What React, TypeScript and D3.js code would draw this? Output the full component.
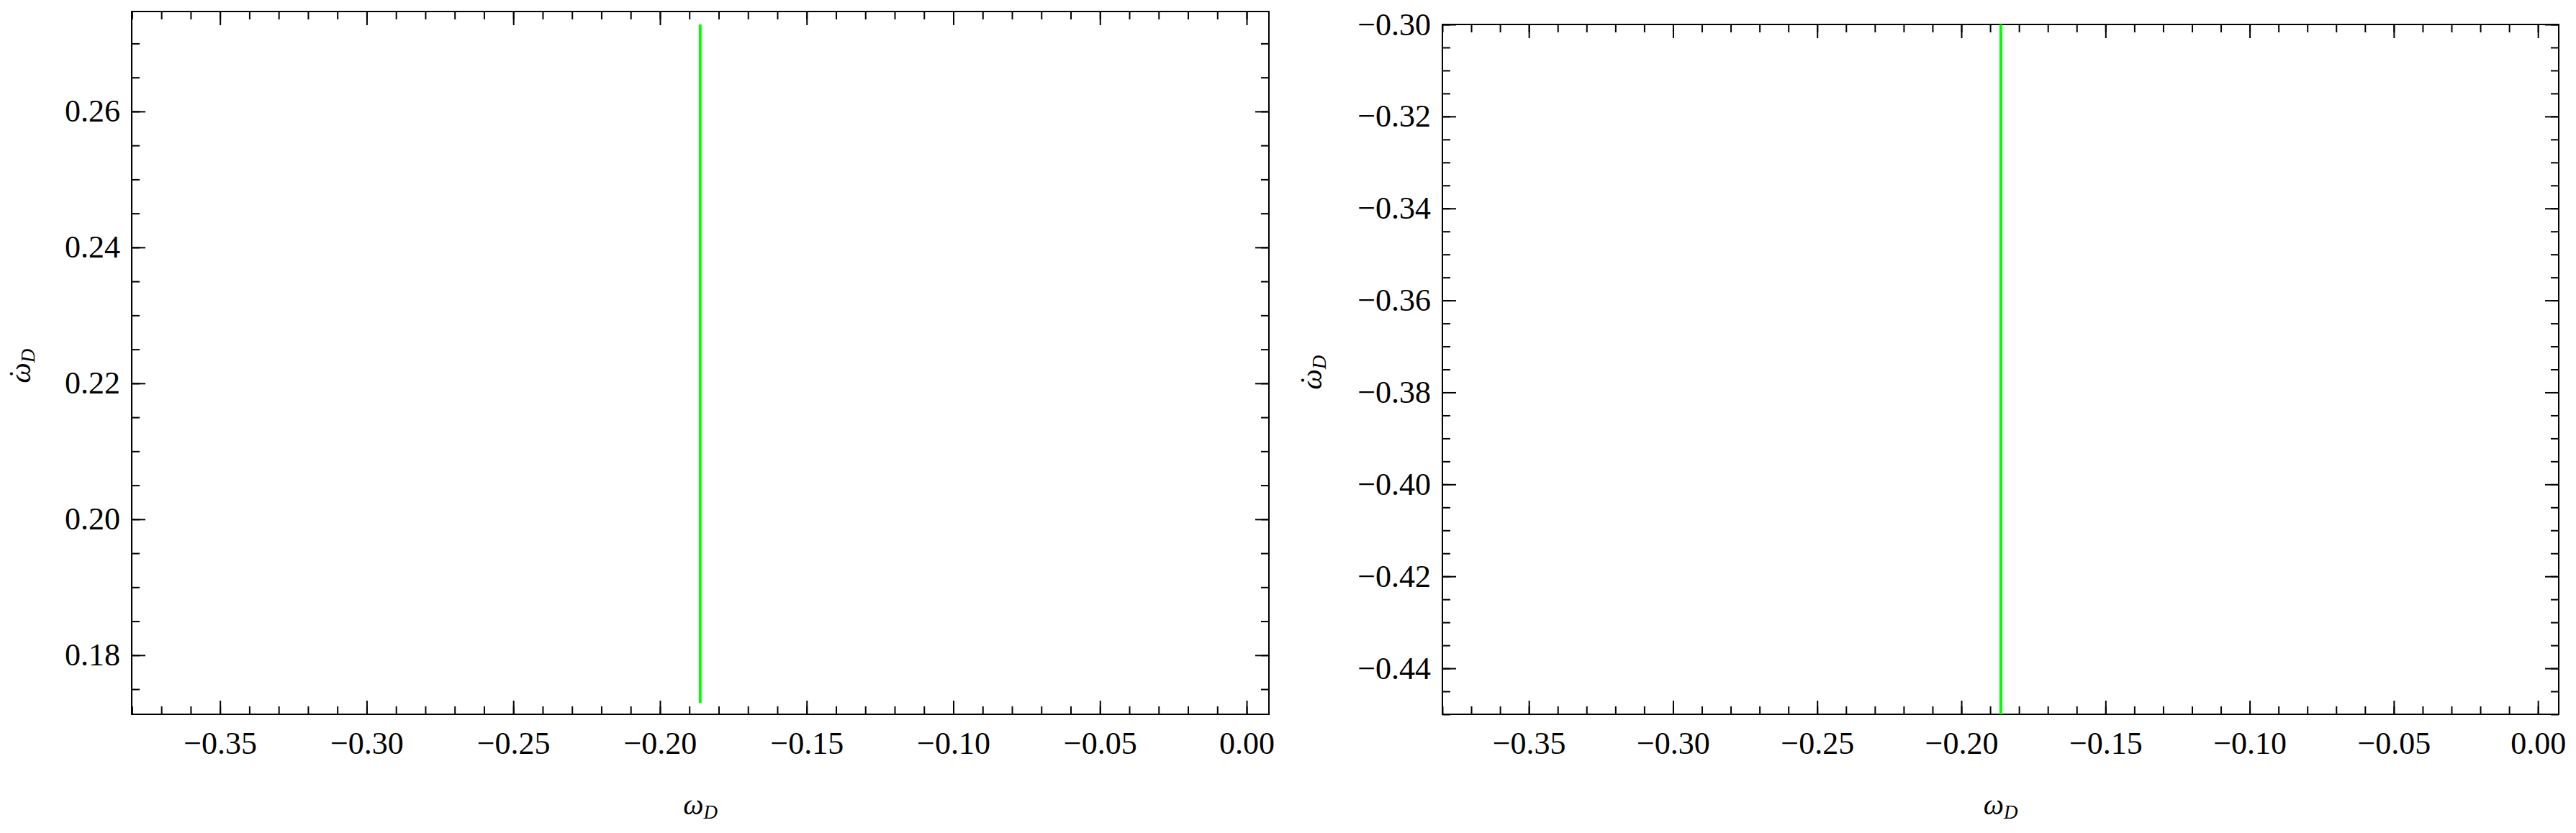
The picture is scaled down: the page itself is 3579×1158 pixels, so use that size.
import React, { useEffect, useRef } from 'react'
import { select, scaleLinear, axisBottom, axisTop, axisLeft, axisRight, line, range, format } from 'd3'

// values
const xMajor = [-0.35, -0.3, -0.25, -0.2, -0.15, -0.1, -0.05, 0]
const leftYMajor = [0.18, 0.2, 0.22, 0.24, 0.26]
const rightYMajor = [-0.44, -0.42, -0.4, -0.38, -0.36, -0.34, -0.32, -0.3]

// the green curve is a vertical segment at omega_D ~ -0.1863
const leftCurveX = [-0.1863, -0.1863]
const leftCurveY = [0.173, 0.2728]
const rightCurveX = [-0.1863, -0.1863]
const rightCurveY = [-0.45, -0.3]

const W = 3579, H = 1158
const FONT = '"Liberation Serif", "DejaVu Serif", serif'

const panels = [
  { x0: 183, x1: 1763, y0: 16, y1: 993, xDom: [-0.3801, 0.0076], yDom: [0.1713, 0.2747], yMajor: leftYMajor, yStep: 0.005, cx: leftCurveX, cy: leftCurveY, labelX: 42 },
  { x0: 2004, x1: 3555, y0: 34, y1: 993, xDom: [-0.38, 0.0072], yDom: [-0.45, -0.3], yMajor: rightYMajor, yStep: 0.005, cx: rightCurveX, cy: rightCurveY, labelX: 1836 },
]

const fmt = format('.2f')

function stepTicks(dom: number[], step: number) {
  const lo = Math.ceil(dom[0] / step - 1e-6)
  const hi = Math.floor(dom[1] / step + 1e-6)
  return range(lo, hi + 1).map(i => +(i * step).toFixed(4))
}

function App() {
  const ref = useRef(null)

  useEffect(() => {
    document.body.style.margin = '0'
    const svg = select(ref.current)
    svg.selectAll('*').remove()

    svg.append('rect').attr('width', W).attr('height', H).attr('fill', 'white')

    panels.forEach(p => {
      const x = scaleLinear().domain(p.xDom).range([p.x0, p.x1])
      const y = scaleLinear().domain(p.yDom).range([p.y1, p.y0])
      const g = svg.append('g')

      const xMinor = stepTicks(p.xDom, 0.01)
      const yMinor = stepTicks(p.yDom, p.yStep)

      const styleAxis = (sel: any) => {
        sel.select('.domain').remove()
        sel.selectAll('line').attr('stroke', '#000').attr('stroke-width', 2)
        sel.attr('font-family', null).attr('font-size', null)
        sel.selectAll('text').attr('fill', '#000')
          .style('font-family', FONT).style('font-size', '44px')
      }

      // minor ticks, all four sides
      g.append('g').attr('transform', `translate(0,${p.y1})`)
        .call(axisBottom(x).tickValues(xMinor).tickSize(-11).tickFormat(() => '')).call(styleAxis)
      g.append('g').attr('transform', `translate(0,${p.y0})`)
        .call(axisTop(x).tickValues(xMinor).tickSize(-11).tickFormat(() => '')).call(styleAxis)
      g.append('g').attr('transform', `translate(${p.x0},0)`)
        .call(axisLeft(y).tickValues(yMinor).tickSize(-11).tickFormat(() => '')).call(styleAxis)
      g.append('g').attr('transform', `translate(${p.x1},0)`)
        .call(axisRight(y).tickValues(yMinor).tickSize(-11).tickFormat(() => '')).call(styleAxis)

      // major ticks
      g.append('g').attr('transform', `translate(0,${p.y1})`)
        .call(axisBottom(x).tickValues(xMajor).tickSize(-19).tickPadding(24).tickFormat(d => fmt(+d))).call(styleAxis)
      g.append('g').attr('transform', `translate(0,${p.y0})`)
        .call(axisTop(x).tickValues(xMajor).tickSize(-19).tickFormat(() => '')).call(styleAxis)
      g.append('g').attr('transform', `translate(${p.x0},0)`)
        .call(axisLeft(y).tickValues(p.yMajor).tickSize(-19).tickPadding(16).tickFormat(d => fmt(+d))).call(styleAxis)
      g.append('g').attr('transform', `translate(${p.x1},0)`)
        .call(axisRight(y).tickValues(p.yMajor).tickSize(-19).tickFormat(() => '')).call(styleAxis)

      // frame
      g.append('rect')
        .attr('x', p.x0).attr('y', p.y0)
        .attr('width', p.x1 - p.x0).attr('height', p.y1 - p.y0)
        .attr('fill', 'none').attr('stroke', '#000').attr('stroke-width', 2)

      // curve
      const pts = p.cx.map((v, i) => [v, p.cy[i]] as [number, number])
      g.append('path')
        .attr('d', line().x(d => x(d[0])).y(d => y(d[1]))(pts))
        .attr('stroke', '#00ff00').attr('stroke-width', 4).attr('fill', 'none')

      // x label
      const xl = g.append('text')
        .attr('x', (p.x0 + p.x1) / 2).attr('y', 1132)
        .attr('text-anchor', 'middle')
        .style('font-family', FONT).style('font-style', 'italic')
      xl.append('tspan').style('font-size', '40px').text('ω')
      xl.append('tspan').style('font-size', '27px').attr('dy', 6).text('D')

      // y label, rotated (omega with a dot over it)
      const yg = g.append('g')
        .attr('transform', `translate(${p.labelX},${(p.y0 + p.y1) / 2 + 4}) rotate(-90)`)
        .style('font-family', FONT).style('font-style', 'italic')
      const yl = yg.append('text').attr('text-anchor', 'middle')
      yl.append('tspan').style('font-size', '40px').text('ω')
      yl.append('tspan').style('font-size', '27px').attr('dy', 6).text('D')
      yg.append('text')
        .attr('x', -11).attr('y', -2)
        .attr('text-anchor', 'middle')
        .style('font-size', '40px').style('font-style', 'normal')
        .text('˙')
    })
  }, [])

  return <svg ref={ref} width={W} height={H} style={{ display: 'block' }}></svg>
}

export default App
